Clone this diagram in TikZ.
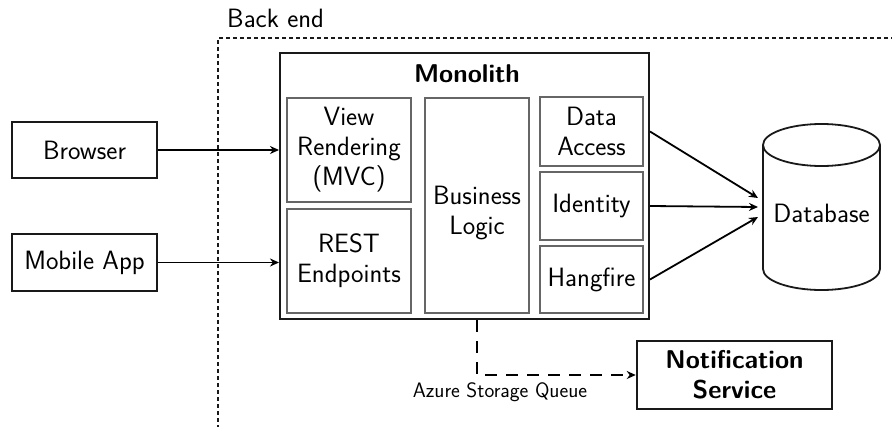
\documentclass[tikz,border=0pt]{standalone}
\usetikzlibrary{arrows.meta,calc}
\tikzset{
  base/.style={font=\sffamily\fontsize{26.5}{30}\selectfont, align=center, inner sep=0pt},
  outerbox/.style={base, draw=black!90, line width=2pt},
  innerbox/.style={base, draw=black!60, line width=1.2pt},
  bigbox/.style={base, draw=black!90, line width=2.5pt, font=\sffamily\bfseries\fontsize{25.7}{30}\selectfont},
  conn/.style={line width=1.8pt, -{Stealth[length=9pt,width=8pt]}},
  qconn/.style={line width=1.8pt, dash pattern=on 12pt off 9pt, -{Stealth[length=9pt,width=8pt]}},
  backendbox/.style={draw=black!90, line width=1.8pt, dash pattern=on 4pt off 3pt},
}
\begin{document}
\begin{tikzpicture}[x=1pt,y=-1pt]
\useasboundingbox (0,0) rectangle (892,426);
% back end region
\node[backendbox, anchor=north west, minimum width=700pt, minimum height=389.8pt, inner sep=0pt] (backend) at (217,37) {};
\node[base, anchor=base west] (backendlbl) at (227,27) {Back end};
% monolith
\node[outerbox, minimum width=369pt, minimum height=266pt] (mono) at (464.5,186) {};
\node[base, font=\sffamily\bfseries\fontsize{25.7}{30}\selectfont] (monolbl) at (467,74) {Monolith};
\node[innerbox, minimum width=124pt, minimum height=104pt] (vr) at (349,150) {View\\Rendering\\(MVC)};
\node[innerbox, minimum width=124pt, minimum height=104pt] (rest) at (349,261) {REST\\Endpoints};
\node[innerbox, minimum width=104pt, minimum height=215pt,
      label={[base, yshift=-8pt]center:{Business\\Logic}}] (bl) at (477,205.5) {};
\node[innerbox, minimum width=103pt, minimum height=69pt] (da) at (591.5,131.5) {Data\\Access};
\node[innerbox, minimum width=103pt, minimum height=68pt] (id) at (591.5,206) {Identity};
\node[innerbox, minimum width=103pt, minimum height=67pt] (hf) at (591.5,279.5) {Hangfire};
% clients
\node[outerbox, minimum width=145pt, minimum height=56pt] (browser) at (84.5,150) {Browser};
\node[outerbox, minimum width=145pt, minimum height=57pt] (mobile) at (84.5,262.5) {Mobile App};
% database
\node[base, minimum width=117pt, minimum height=166pt] (db) at (821.5,213) {Database};
\draw[line width=1.8pt, draw=black!90] (763,145) -- (763,269) arc[start angle=180, end angle=360, x radius=58.5pt, y radius=21pt] -- (880,145);
\draw[line width=1.8pt, draw=black!90] (821.5,145) ellipse[x radius=58.5pt, y radius=21pt];
\coordinate (dbin) at (758,207);
% notification
\node[bigbox, minimum width=195pt, minimum height=68pt] (notif) at (734.5,375) {Notification\\Service};
\node[base, font=\sffamily\fontsize{20.9}{24}\selectfont] (azure) at (500,392) {Azure Storage Queue};
% connectors
\draw[conn] (browser.east) -- (browser.east -| mono.west);
\draw[conn] (mobile.east) -- (mobile.east -| mono.west);
\draw[conn] (da.east -| mono.east) -- ($(dbin)+(0,-9)$);
\draw[conn] (id.east -| mono.east) -- (dbin);
\draw[conn] (hf.east -| mono.east) -- ($(dbin)+(0,10)$);
\draw[qconn] (mono.south -| bl.south) |- (notif.west);
\end{tikzpicture}
\end{document}
